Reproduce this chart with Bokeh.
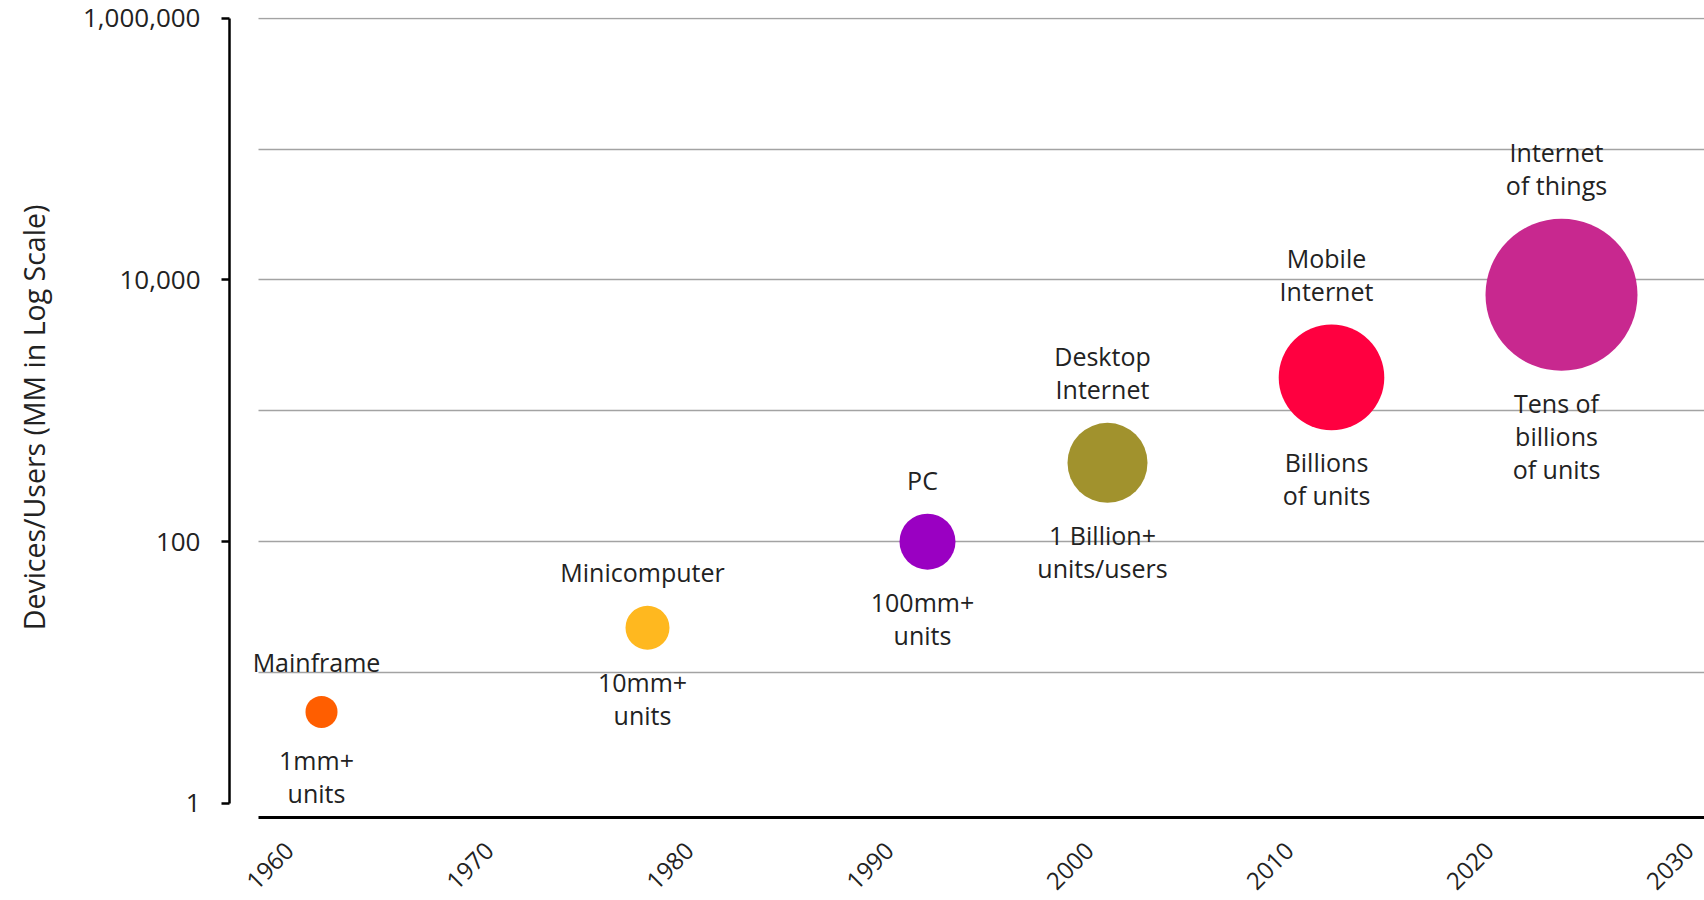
import math
from bokeh.plotting import figure
from bokeh.models import (ColumnDataSource, LogAxis, FixedTicker, Range1d,
                          NumeralTickFormatter, BoxAnnotation)
from bokeh.core.properties import value
from bokeh.embed import file_html
from bokeh.resources import INLINE

# ---------------- data ----------------
eras = ["Mainframe", "Minicomputer", "PC", "Desktop Internet",
        "Mobile Internet", "Internet of things"]
years = [1961.6, 1977.9, 1991.9, 2000.9, 2012.1, 2023.6]
devices_mm = [5, 22, 100, 400, 1800, 7700]
bubble_scale = [1.0, 1.375, 1.75, 2.5, 3.3, 4.75]
top_labels = ["Mainframe", "Minicomputer", "PC", "Desktop\nInternet",
              "Mobile\nInternet", "Internet\nof things"]
bottom_labels = ["1mm+\nunits", "10mm+\nunits", "100mm+\nunits",
                 "1 Billion+\nunits/users", "Billions\nof units",
                 "Tens of\nbillions\nof units"]
colors = ["#FF5E00", "#FFB81F", "#9A00C2", "#A1922D", "#FF0040", "#C8288F"]
x_ticks = [1960, 1970, 1980, 1990, 2000, 2010, 2020, 2030]
y_ticks = [1, 100, 10000, 1000000]
grid_values = [10, 100, 1000, 10000, 100000, 1000000]
y_label = "Devices/Users (MM in Log Scale)"

# ---------------- styling helpers ----------------
BASE_DIAM = 32
diam = [s * BASE_DIAM for s in bubble_scale]
top_off = [-(d / 2 + 17) for d in diam]
bot_off = [d / 2 + 15 for d in diam]

src = ColumnDataSource(dict(year=years, dev=devices_mm, diam=diam,
                            color=colors, top=top_labels, bottom=bottom_labels,
                            top_off=top_off, bot_off=bot_off, era=eras))

FONT = "Open Sans"
TXT = "#222222"

X_START, X_END = 1957.0, 2030.75
GAP_YEARS = 29 / 20.0          # gap between y axis and start of the plot body
X_BODY = X_START + GAP_YEARS

p = figure(width=1704, height=900, output_backend="svg", toolbar_location=None,
           x_range=Range1d(X_START, X_END), y_range=Range1d(0.78, 1.0125e6),
           y_axis_type="log", y_axis_location=None,
           min_border_left=229, min_border_right=0, min_border_top=17,
           min_border_bottom=83)
p.outline_line_color = None
p.background_fill_color = "white"
p.border_fill_color = "white"

# grid
p.xgrid.visible = False
g = p.ygrid[0]
g.ticker = FixedTicker(ticks=grid_values)
g.grid_line_color = "#a3a3a3"
g.grid_line_width = 1.5
if "cross_bounds" in g.properties():
    g.cross_bounds = (X_BODY, X_END)
else:
    p.add_layout(BoxAnnotation(right=X_BODY, fill_color="white", fill_alpha=1,
                               line_color=None, level="underlay"))

# x axis
xa = p.xaxis[0]
xa.ticker = FixedTicker(ticks=x_ticks)
xa.bounds = (X_BODY, X_END)
xa.major_label_orientation = math.pi / 4
xa.axis_line_color = "black"
xa.axis_line_width = 3
xa.major_tick_line_color = None
xa.minor_tick_line_color = None
xa.major_tick_out = 0
xa.major_tick_in = 0
xa.major_label_standoff = 29
xa.major_label_text_font = FONT
xa.major_label_text_font_size = "24px"
xa.major_label_text_color = TXT

# y axis
ya = LogAxis(ticker=FixedTicker(ticks=y_ticks), bounds=(1, 1000000),
             formatter=NumeralTickFormatter(format="0,0"))
ya.axis_line_color = "black"
ya.axis_line_width = 2.5
ya.major_tick_line_color = "black"
ya.major_tick_line_width = 2.5
ya.major_tick_out = 8
ya.major_tick_in = 0
ya.minor_tick_line_color = None
ya.major_label_standoff = 21
ya.major_label_text_font = FONT
ya.major_label_text_font_size = "26px"
ya.major_label_text_color = TXT
ya.axis_label = y_label
ya.axis_label_text_font = FONT
ya.axis_label_text_font_size = "28.5px"
ya.axis_label_text_font_style = "normal"
ya.axis_label_text_color = TXT
ya.axis_label_standoff = 27
p.add_layout(ya, "left")

# bubbles
p.scatter(x="year", y="dev", size="diam", color="color", line_color=None,
          source=src)

# labels
p.text(x="year", y="dev", text="top", source=src, x_offset=-5, y_offset="top_off",
       text_align="center", text_baseline="bottom", text_font=value(FONT),
       text_font_size="25px", text_color=TXT, text_line_height=0.97)
p.text(x="year", y="dev", text="bottom", source=src, x_offset=-5, y_offset="bot_off",
       text_align="center", text_baseline="top", text_font=value(FONT),
       text_font_size="25px", text_color=TXT, text_line_height=0.97)

open("out.html", "w").write(file_html(p, INLINE))
